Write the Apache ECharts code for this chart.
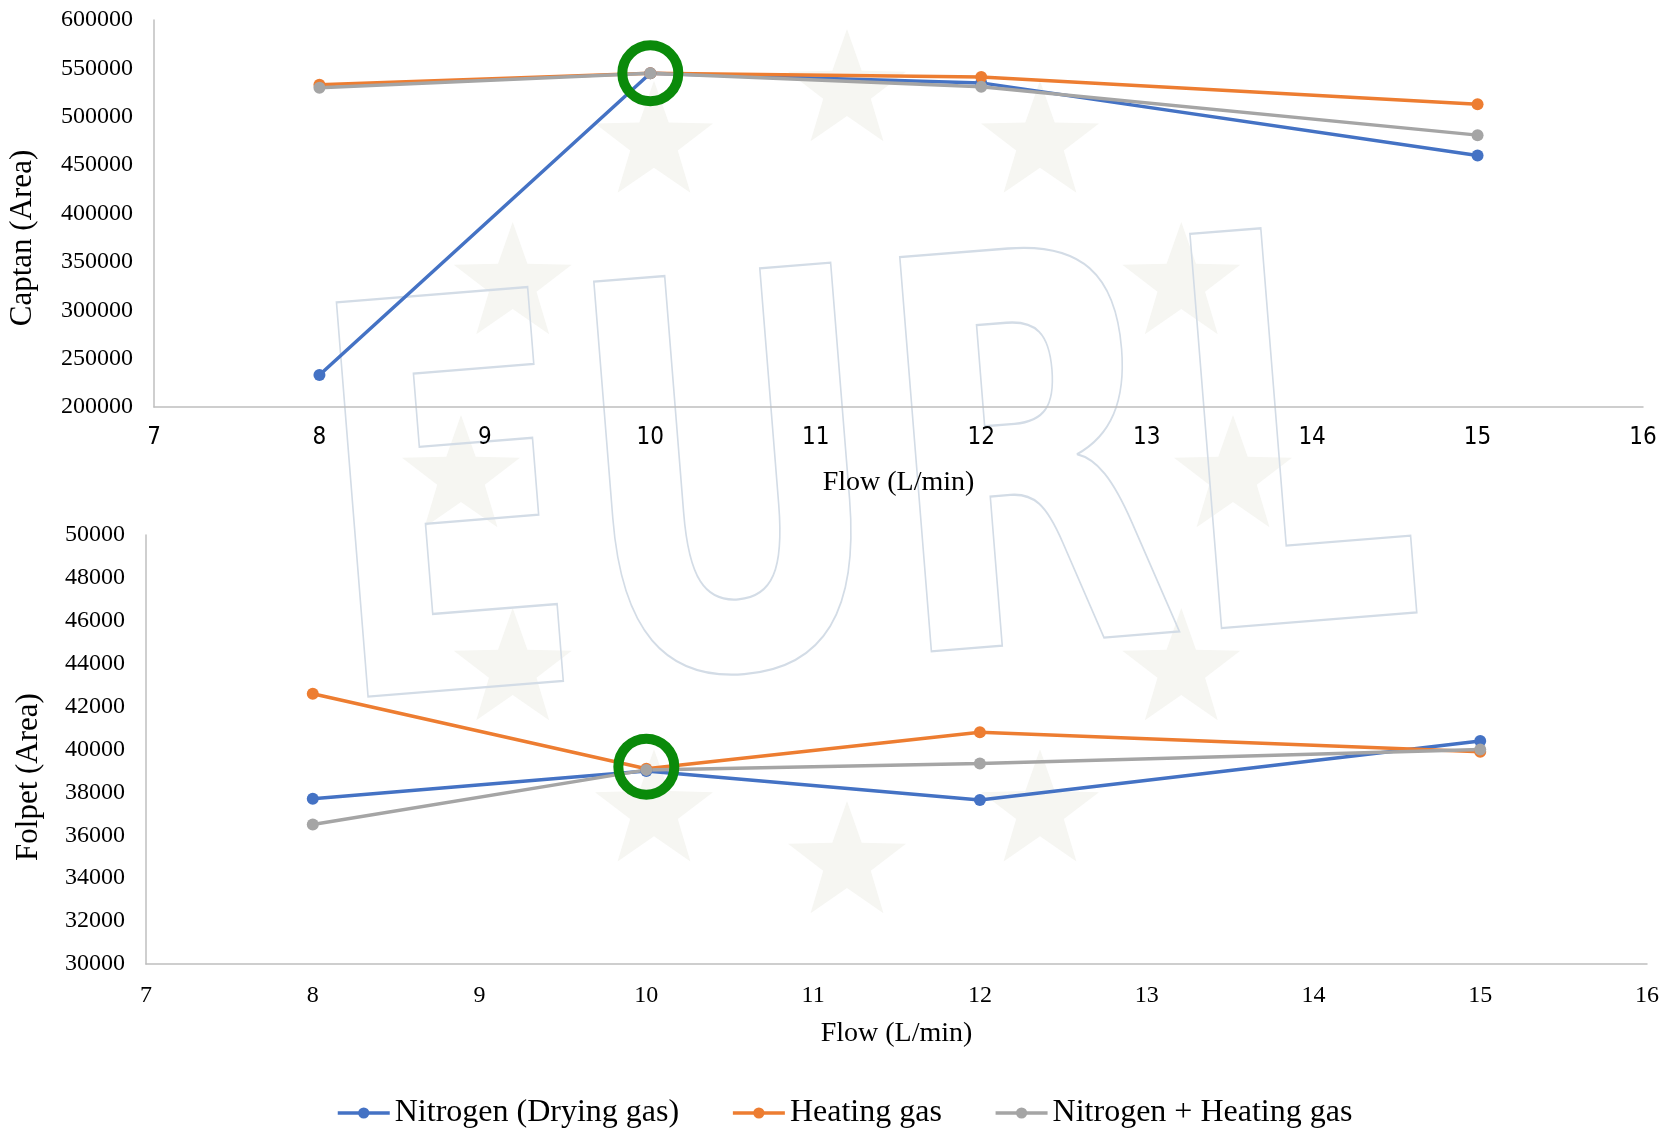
<!DOCTYPE html>
<html>
<head>
<meta charset="utf-8">
<title>Captan and Folpet response vs gas flow</title>
<script src="https://cdn.jsdelivr.net/npm/echarts@6/dist/echarts.min.js"></script>
<style>
  html, body { margin: 0; padding: 0; background: #ffffff; }
  #chart { width: 1671px; height: 1132px; }
</style>
</head>
<body>
<div id="chart"></div>
<script>
// Gas flow settings (L/min)
const flows = [8, 10, 12, 15];

// Series names
const seriesNames = ['Nitrogen (Drying gas)', 'Heating gas', 'Nitrogen + Heating gas'];
const seriesColors = ['#4472C4', '#ED7D31', '#A5A5A5'];

// Captan peak areas
const captanNitrogen = [233000, 545000, 535000, 460000];
const captanHeating  = [533000, 545000, 541000, 513000];
const captanBoth     = [530000, 545000, 531000, 481000];

// Folpet peak areas
const folpetNitrogen = [37700, 39000, 37650, 40400];
const folpetHeating  = [42600, 39100, 40800, 39900];
const folpetBoth     = [36500, 39050, 39350, 40000];

// Selected flow (ringed in both panels)
const optimumFlow = 10;
const optimumCaptan = 545000;
const optimumFolpet = 39200;

const serif = '"Liberation Serif", "Times New Roman", serif';
const narrow = '"Liberation Sans Narrow", "DejaVu Sans Condensed", sans-serif';

const pairs = (ys) => flows.map((x, i) => [x, ys[i]]);

function lineSeries(name, color, values, gridIndex) {
  return {
    name: name,
    type: 'line',
    xAxisIndex: gridIndex,
    yAxisIndex: gridIndex,
    data: pairs(values),
    symbol: 'circle',
    symbolSize: 12,
    lineStyle: { width: 3.5, color: color },
    itemStyle: { color: color },
    emphasis: { disabled: true },
    z: 3
  };
}

function ringSeries(value, gridIndex) {
  return {
    name: 'optimum',
    type: 'scatter',
    xAxisIndex: gridIndex,
    yAxisIndex: gridIndex,
    data: [[optimumFlow, value]],
    symbol: 'circle',
    symbolSize: 56,
    itemStyle: { color: 'rgba(0,0,0,0)', borderColor: '#0a8a0a', borderWidth: 10, opacity: 1 },
    emphasis: { disabled: true },
    silent: true,
    z: 10
  };
}

// Faint watermark: ring of stars and outlined lettering
const decorations = [];
const starCenter = [847, 477];
const starRing = 386;
for (let k = 0; k < 12; k++) {
  const a = -Math.PI / 2 + k * Math.PI / 6;
  const cx = starCenter[0] + starRing * Math.cos(a);
  const cy = starCenter[1] + starRing * Math.sin(a);
  const pts = [];
  for (let j = 0; j < 10; j++) {
    const r = j % 2 === 0 ? 62 : 25;
    const t = -Math.PI / 2 + j * Math.PI / 5;
    pts.push([cx + r * Math.cos(t), cy + r * Math.sin(t)]);
  }
  decorations.push({
    type: 'polygon',
    shape: { points: pts },
    style: { fill: '#f6f6f2' },
    silent: true,
    z: -10
  });
}
decorations.push({
  type: 'text',
  x: 869,
  y: 515,
  rotation: 0.08,
  scaleX: 1.08,
  scaleY: 1.55,
  style: {
    text: 'EURL',
    font: 'bold 350px "DejaVu Sans", sans-serif',
    fill: 'rgba(255,255,255,0)',
    stroke: '#d3dce6',
    lineWidth: 1.5,
    align: 'center',
    verticalAlign: 'middle'
  },
  silent: true,
  z: -9
});

// Y axis titles
decorations.push({
  type: 'text', x: 23, y: 238, rotation: Math.PI / 2,
  style: { text: 'Captan (Area)', font: '31px ' + serif, fill: '#000', align: 'center', verticalAlign: 'middle' },
  silent: true
});
decorations.push({
  type: 'text', x: 29, y: 777, rotation: Math.PI / 2,
  style: { text: 'Folpet (Area)', font: '31px ' + serif, fill: '#000', align: 'center', verticalAlign: 'middle' },
  silent: true
});

const axisLine = { show: true, lineStyle: { color: '#bfbfbf', width: 1.5 } };
const plain = (v) => String(v);

const option = {
  backgroundColor: '#ffffff',
  animation: false,
  graphic: decorations,
  grid: [
    { left: 154, width: 1489, top: 20, height: 387, outerBoundsMode: 'none', containLabel: false },
    { left: 146, width: 1501, top: 535, height: 429, outerBoundsMode: 'none', containLabel: false }
  ],
  xAxis: [
    {
      type: 'value', gridIndex: 0, min: 7, max: 16, interval: 1,
      axisLine: axisLine, axisTick: { show: false }, splitLine: { show: false },
      axisLabel: { color: '#000', fontFamily: narrow, fontSize: 24, margin: 19, formatter: plain },
      name: 'Flow (L/min)', nameLocation: 'middle', nameGap: 62,
      nameTextStyle: { color: '#000', fontFamily: serif, fontSize: 28 }
    },
    {
      type: 'value', gridIndex: 1, min: 7, max: 16, interval: 1,
      axisLine: axisLine, axisTick: { show: false }, splitLine: { show: false },
      axisLabel: { color: '#000', fontFamily: serif, fontSize: 24, margin: 20, formatter: plain },
      name: 'Flow (L/min)', nameLocation: 'middle', nameGap: 56,
      nameTextStyle: { color: '#000', fontFamily: serif, fontSize: 28 }
    }
  ],
  yAxis: [
    {
      type: 'value', gridIndex: 0, min: 200000, max: 600000, interval: 50000,
      axisLine: axisLine, axisTick: { show: false }, splitLine: { show: false },
      axisLabel: { color: '#000', fontFamily: serif, fontSize: 24, margin: 21, formatter: plain }
    },
    {
      type: 'value', gridIndex: 1, min: 30000, max: 50000, interval: 2000,
      axisLine: axisLine, axisTick: { show: false }, splitLine: { show: false },
      axisLabel: { color: '#000', fontFamily: serif, fontSize: 24, margin: 21, formatter: plain }
    }
  ],
  legend: {
    data: seriesNames,
    left: 331,
    top: 1092,
    itemWidth: 52,
    itemHeight: 14,
    itemGap: 52,
    lineStyle: { width: 3.5 },
    textStyle: { color: '#000', fontFamily: serif, fontSize: 32 },
    selectedMode: false
  },
  series: [
    lineSeries(seriesNames[0], seriesColors[0], captanNitrogen, 0),
    lineSeries(seriesNames[1], seriesColors[1], captanHeating, 0),
    lineSeries(seriesNames[2], seriesColors[2], captanBoth, 0),
    lineSeries(seriesNames[0], seriesColors[0], folpetNitrogen, 1),
    lineSeries(seriesNames[1], seriesColors[1], folpetHeating, 1),
    lineSeries(seriesNames[2], seriesColors[2], folpetBoth, 1),
    ringSeries(optimumCaptan, 0),
    ringSeries(optimumFolpet, 1)
  ]
};

const chart = echarts.init(document.getElementById('chart'), null, { renderer: 'canvas' });
chart.setOption(option);
</script>
</body>
</html>
